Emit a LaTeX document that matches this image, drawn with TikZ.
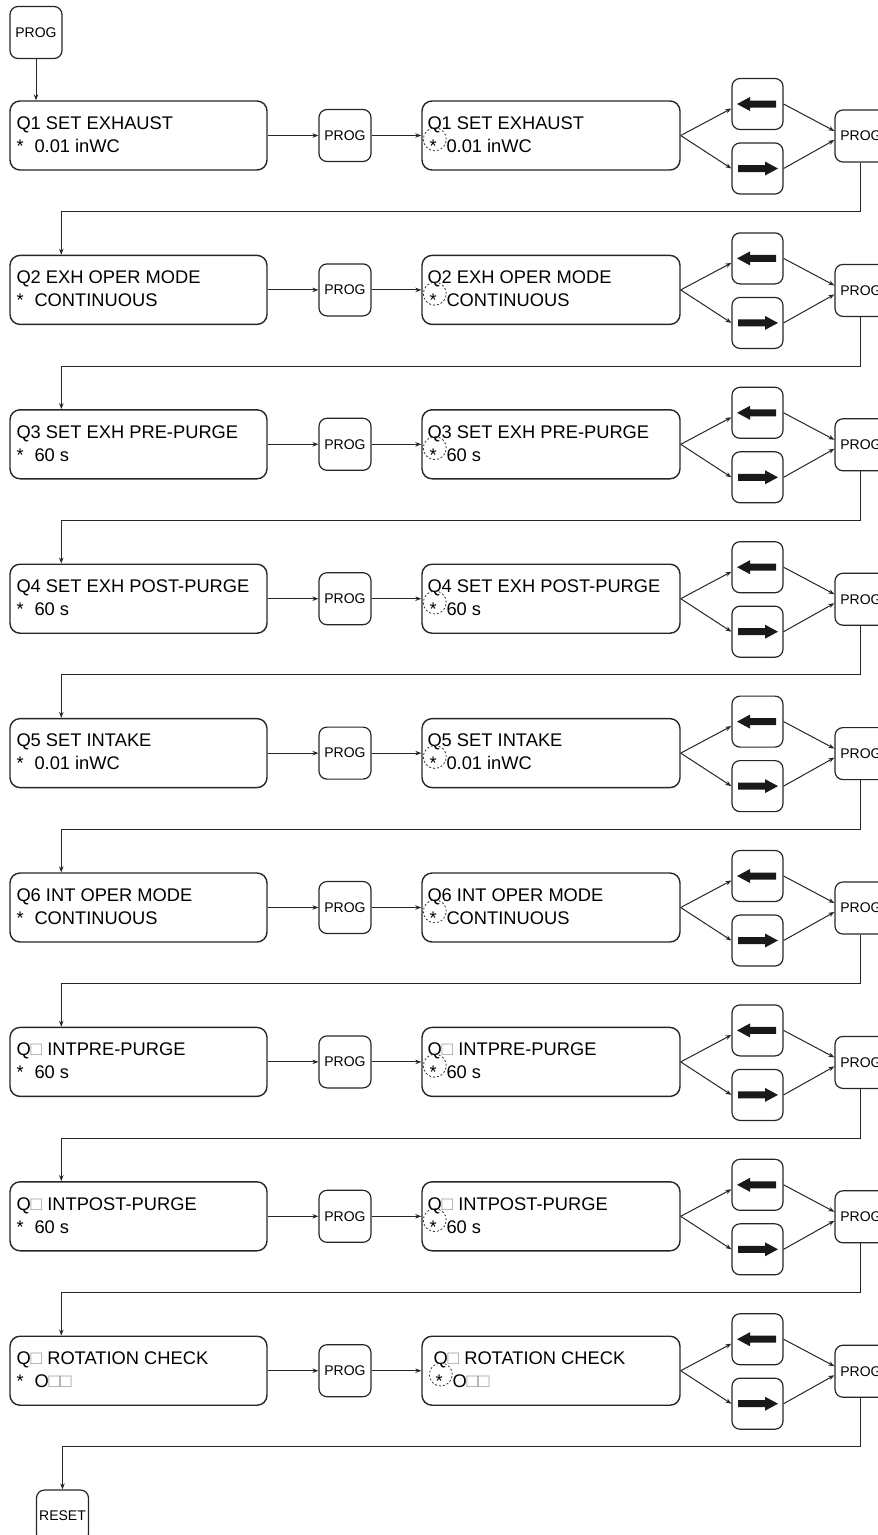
\documentclass[tikz,border=0pt]{standalone}
\usepackage{fontspec}
\setmainfont{Liberation Sans}
\usetikzlibrary{calc,arrows.meta}
\newcommand\sqg{{\color{black!40}\fontsize{19}{19}\selectfont □}}
\tikzset{
  ln/.style={draw=black!85, line width=1pt},
  arr/.style={ln, -{Stealth[length=6pt,width=4.5pt]}},
  qbox/.style={draw=black!85, line width=1.4pt, rounded corners=10pt, minimum width=257pt, minimum height=69pt, inner sep=0pt},
  pbox/.style={draw=black!85, line width=1.2pt, rounded corners=8pt, minimum width=52pt, minimum height=52pt, inner sep=0pt, font=\fontsize{14}{14}\selectfont},
  abox/.style={draw=black!85, line width=1.2pt, rounded corners=8pt, minimum width=51pt, minimum height=51pt, inner sep=0pt},
  tx/.style={anchor=base west, inner sep=0pt, font=\fontsize{18.3}{18.3}\selectfont},
  blink/.style={circle, draw=black!80, line width=0.8pt, dash pattern=on 2pt off 2pt, minimum size=23pt, inner sep=0pt},
  fat/.style={fill=black!90},
}
\begin{document}
\begin{tikzpicture}[x=1pt,y=-1pt]
\useasboundingbox (0,0) rectangle (878,1535);
\node[pbox] (p0) at (36,32.5) {PROG};
\foreach \i/\la/\lb/\dx in {
  1/{Q1 SET EXHAUST}/{0.01 inWC}/0,
  2/{Q2 EXH OPER MODE}/{CONTINUOUS}/0,
  3/{Q3 SET EXH PRE-PURGE}/{60 s}/0,
  4/{Q4 SET EXH POST-PURGE}/{60 s}/0,
  5/{Q5 SET INTAKE}/{0.01 inWC}/0,
  6/{Q6 INT OPER MODE}/{CONTINUOUS}/0,
  7/{Q\sqg{} INTPRE-PURGE}/{60 s}/0,
  8/{Q\sqg{} INTPOST-PURGE}/{60 s}/0,
  9/{Q\sqg{} ROTATION CHECK}/{O\sqg\sqg}/6}{
  \pgfmathsetmacro\T{101+154.4*(\i-1)}
  \node[qbox] (qa\i) at (138.5,\T+34.5) {};
  \node[pbox] (pa\i) at (345,\T+34.5) {PROG};
  \node[qbox, minimum width=258pt] (qb\i) at (551,\T+34.5) {};
  \node[abox] (up\i) at (757.5,\T+3) {};
  \node[abox] (dn\i) at (757.5,\T+67.5) {};
  \node[pbox] (pr\i) at (861,\T+35) {PROG};
  \coordinate (in\i) at ($(qa\i.north west)+(52,0)$);
  % texts
  \node[tx] (la\i) at ($(qa\i.north west)+(7,29)$) {\la};
  \node[tx] (sa\i) at ($(qa\i.north west)+(7,52)$) {*};
  \node[tx] (va\i) at ($(qa\i.north west)+(25,52)$) {\lb};
  \node[tx] (lb\i) at ($(qb\i.north west)+(6+\dx,29)$) {\la};
  \node[tx] (sb\i) at ($(qb\i.north west)+(8+\dx,52)$) {*};
  \node[tx] (vb\i) at ($(qb\i.north west)+(25+\dx,52)$) {\lb};
  \node[blink] (bk\i) at ($(qb\i.north west)+(13.5+\dx,39)$) {};
  % fat arrows
  \fill[fat, shift={(up\i.center)}] (-20.5,0) -- (-7.5,-7) -- (-7.5,-3.5) -- (18.5,-3.5) -- (18.5,3.5) -- (-7.5,3.5) -- (-7.5,7) -- cycle;
  \fill[fat, shift={(dn\i.center)}] (20.5,0) -- (7.5,-7) -- (7.5,-3.5) -- (-19.5,-3.5) -- (-19.5,3.5) -- (7.5,3.5) -- (7.5,7) -- cycle;
  % connectors
  \draw[arr] (qa\i.east) -- (pa\i.west);
  \draw[arr] (pa\i.east) -- (qb\i.west);
  \draw[arr] (qb\i.east) -- ($(up\i.west)+(0,4.5)$);
  \draw[arr] (qb\i.east) -- (dn\i.west);
  \draw[arr] (up\i.east) -- ($(pr\i.west)+(0,-5)$);
  \draw[arr] (dn\i.east) -- ($(pr\i.west)+(0,4)$);
}
\node[pbox] (reset) at (62.5,1516) {RESET};
\coordinate (in10) at (reset.north);
\draw[arr] (p0.south) -- (p0.south |- qa1.north);
\foreach \i in {1,...,9}{
  \pgfmathtruncatemacro\j{\i+1}
  \draw[arr] ($(pr\i.south)+(-1,0)$) |- ($(in\j)+(0,-43)$) -- (in\j);
}
\end{tikzpicture}
\end{document}
